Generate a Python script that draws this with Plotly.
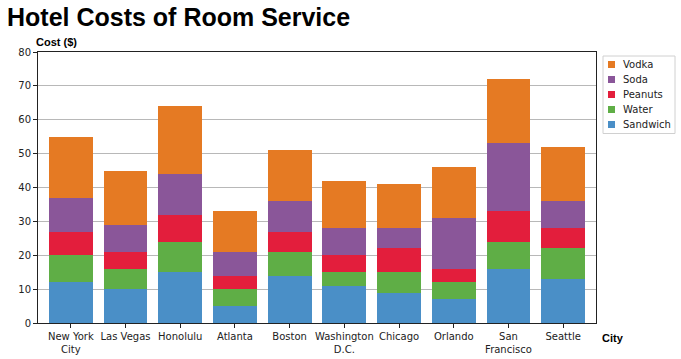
import plotly.graph_objects as go

cities = ["New York<br>City", "Las Vegas", "Honolulu", "Atlanta", "Boston",
          "Washington<br>D.C.", "Chicago", "Orlando", "San<br>Francisco", "Seattle"]
sandwich = [12, 10, 15, 5, 14, 11, 9, 7, 16, 13]
water = [8, 6, 9, 5, 7, 4, 6, 5, 8, 9]
peanuts = [7, 5, 8, 4, 6, 5, 7, 4, 9, 6]
soda = [10, 8, 12, 7, 9, 8, 6, 15, 20, 8]
vodka = [18, 16, 20, 12, 15, 14, 13, 15, 19, 16]

series = [("Sandwich", sandwich, "#4a8fc7"),
          ("Water", water, "#5fae46"),
          ("Peanuts", peanuts, "#e31e3c"),
          ("Soda", soda, "#8a5699"),
          ("Vodka", vodka, "#e57a23")]

fig = go.Figure()
for name, vals, col in series:
    fig.add_trace(go.Bar(x=cities, y=vals, name=name, marker=dict(color=col, line=dict(width=0))))

W, H = 681, 359
L, R, T, B = 38, 85, 52, 36
PW, PH = W - L - R, H - T - B


def px(x):  # window x pixel -> paper
    return (x - L) / PW


def py(y):  # window y pixel (from top) -> paper
    return (H - B - y) / PH


# matplotlib-style legend drawn by hand (plotly's own is too wide here)
shapes = [dict(type="rect", xref="paper", yref="paper", x0=px(603), x1=px(675),
               y0=py(133.5), y1=py(56), line=dict(color="#d0d0d0", width=1),
               fillcolor="white", layer="above")]
annots = []
for i, (name, vals, col) in enumerate(reversed(series)):
    cy = 64.5 + i * 15
    shapes.append(dict(type="rect", xref="paper", yref="paper", x0=px(608), x1=px(615),
                       y0=py(cy + 3.5), y1=py(cy - 3.5), line=dict(width=0), fillcolor=col,
                       layer="above"))
    annots.append(dict(text=name, xref="paper", yref="paper", x=px(621), y=py(cy),
                       xanchor="left", yanchor="middle", showarrow=False,
                       font=dict(family="DejaVu Sans", size=10, color="#222")))

annots += [
    dict(text="<b>Hotel Costs of Room Service</b>", xref="paper", yref="paper",
         x=px(5), y=py(1), xanchor="left", yanchor="top", showarrow=False,
         font=dict(family="Liberation Sans", size=25, color="black")),
    dict(text="<b>Cost ($)</b>", xref="paper", yref="paper", x=px(34), y=py(34),
         xanchor="left", yanchor="top", showarrow=False,
         font=dict(family="Liberation Sans", size=11, color="black")),
    dict(text="<b>City</b>", xref="paper", yref="paper", x=px(600), y=py(330),
         xanchor="left", yanchor="top", showarrow=False,
         font=dict(family="Liberation Sans", size=11, color="black")),
]

fig.update_layout(
    width=W, height=H, barmode="stack", bargap=0.2,
    margin=dict(l=L, r=R, t=T, b=B, autoexpand=False),
    plot_bgcolor="white", paper_bgcolor="white",
    font=dict(family="DejaVu Sans", size=10, color="#222"),
    showlegend=False,
    xaxis=dict(range=[-0.6, 9.6], showline=True, linecolor="#222", mirror=True,
               ticks="outside", ticklen=4, tickcolor="#222", showgrid=False,
               tickangle=0, automargin=False, tickfont=dict(size=10)),
    yaxis=dict(range=[0, 80], dtick=10, showline=True, linecolor="#222", mirror=True,
               ticks="outside", ticklen=4, tickcolor="#222", automargin=False,
               tickfont=dict(size=10),
               showgrid=True, gridcolor="#b8b8b8", gridwidth=1, zeroline=False),
    shapes=shapes,
    annotations=annots,
)
# drop the default 8px body margin so the figure fills the window
fig.write_html("out.html", config={"displayModeBar": False},
               post_script="document.body.style.margin='0';")
